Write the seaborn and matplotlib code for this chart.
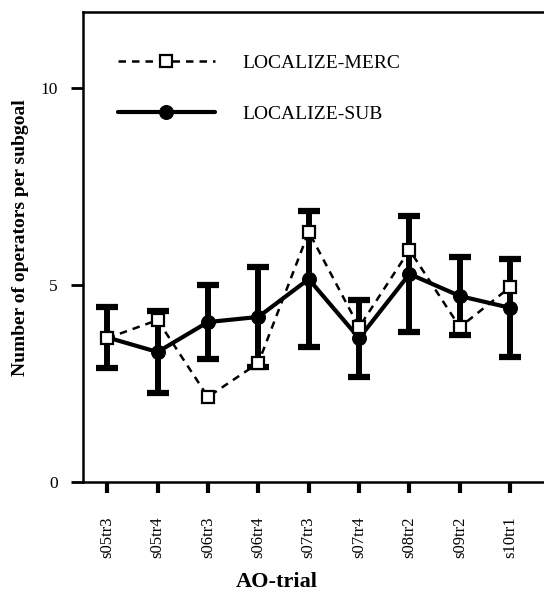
import matplotlib
matplotlib.use("Agg")
import matplotlib.pyplot as plt
import seaborn as sns
import numpy as np

trials = ["s05tr3", "s05tr4", "s06tr3", "s06tr4", "s07tr3", "s07tr4", "s08tr2", "s09tr2", "s10tr1"]
merc = [3.65, 4.11, 2.16, 3.02, 6.35, 3.93, 5.89, 3.93, 4.95]
sub = [3.67, 3.30, 4.06, 4.19, 5.15, 3.65, 5.28, 4.72, 4.42]
sub_err = [0.78, 1.03, 0.95, 1.27, 1.73, 0.98, 1.47, 1.00, 1.25]
yticks = [0, 5, 10]
series_names = ["LOCALIZE-MERC", "LOCALIZE-SUB"]

sns.set_style("ticks")
plt.rcParams["font.family"] = ["Liberation Serif", "DejaVu Serif"]
plt.rcParams.update({"text.color": "black", "axes.labelcolor": "black",
                     "xtick.color": "black", "ytick.color": "black",
                     "axes.edgecolor": "black"})

fig = plt.figure(figsize=(5.44, 5.92), dpi=100)
W, H = 544, 592
ax = fig.add_axes([83 / W, 1 - 482 / H, 1 - 83 / W, 470 / H])

pos = np.arange(len(trials))

# error bars for SUB series
ax.errorbar(pos, sub, yerr=sub_err, fmt="none", ecolor="black",
            elinewidth=4.3, capsize=8, capthick=4.5, zorder=2)

sns.lineplot(x=pos, y=sub, ax=ax, color="black", linewidth=3,
             marker="o", markersize=10, markerfacecolor="black",
             markeredgecolor="black", label=series_names[1], zorder=3)
sns.lineplot(x=pos, y=merc, ax=ax, color="black", linewidth=1.8,
             linestyle="--", marker="s", markersize=9,
             markerfacecolor="white", markeredgecolor="black",
             markeredgewidth=1.6, label=series_names[0], zorder=4)
line_sub, line_merc = ax.lines[-2], ax.lines[-1]
line_merc.set_dashes([3, 2.4])

ax.set_xlim(-0.48, 8.67)
ax.set_ylim(0, 11.93)
ax.set_xticks(pos)
ax.set_xticklabels(trials, rotation=90, fontsize=12)
ax.set_yticks(yticks)
ax.set_yticklabels([str(v) for v in yticks], fontsize=12.5)
ax.tick_params(axis="x", length=8, width=3, direction="out", pad=17)
ax.tick_params(axis="y", length=9, width=2, direction="out", pad=9)

for s in ["left", "bottom", "top"]:
    ax.spines[s].set_linewidth(1.8)
ax.spines["right"].set_visible(False)

ax.set_xlabel("AO-trial", fontsize=16, fontweight="bold")
ax.xaxis.set_label_coords(0.42, -0.192)
ax.set_ylabel("Number of operators per subgoal", fontsize=14, fontweight="bold")
ax.yaxis.set_label_coords(-0.118, 0.52)

leg = ax.legend([line_merc, line_sub], series_names, loc="upper left",
                bbox_to_anchor=(0.075, 0.91), frameon=False, fontsize=14,
                handlelength=5.0, handletextpad=1.4, labelspacing=1.7,
                borderpad=0, borderaxespad=0)

fig.savefig("out.png", dpi=100, facecolor="white")
